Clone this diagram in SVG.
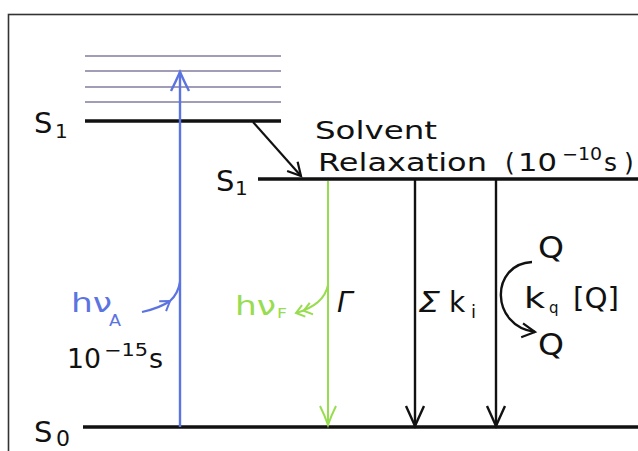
<svg xmlns="http://www.w3.org/2000/svg" width="638" height="451" viewBox="0 0 638 451">
<style>
text{font-family:"DejaVu Sans","Liberation Sans",sans-serif;fill:#111}
.blk{stroke:#111;fill:none}
.lvl{stroke:#111;stroke-width:3.5}
.vib{stroke:#a19db7;stroke-width:2.2}
.blue{fill:#5b74e2}
.green{fill:#98dc50}
</style>
<defs>
<marker id="ahK" markerUnits="userSpaceOnUse" markerWidth="30" markerHeight="30" viewBox="-25 -15 30 30" refX="0" refY="0" orient="auto">
<path d="M-20,-9 Q-9,-4 0,0 Q-9,4 -20,9" fill="none" stroke="#111" stroke-width="2.4"/>
</marker>
<marker id="ahB" markerUnits="userSpaceOnUse" markerWidth="30" markerHeight="30" viewBox="-25 -15 30 30" refX="0" refY="0" orient="auto">
<path d="M-19,-9 Q-9,-4 0,0 Q-9,4 -19,9" fill="none" stroke="#5b74e2" stroke-width="2.4"/>
</marker>
<marker id="ahG" markerUnits="userSpaceOnUse" markerWidth="30" markerHeight="30" viewBox="-25 -15 30 30" refX="0" refY="0" orient="auto">
<path d="M-19,-8 Q-9,-3 0,0 Q-9,3 -19,8" fill="none" stroke="#98dc50" stroke-width="2"/>
</marker>
<marker id="ahS" markerUnits="userSpaceOnUse" markerWidth="24" markerHeight="24" viewBox="-20 -12 24 24" refX="0" refY="0" orient="auto">
<path d="M-13,-7 L0,0 L-13,7" fill="none" stroke="#111" stroke-width="2.2"/>
</marker>
<marker id="ahBs" markerUnits="userSpaceOnUse" markerWidth="24" markerHeight="24" viewBox="-20 -12 24 24" refX="0" refY="0" orient="auto">
<path d="M-9,-6 L0,0 L-9,6" fill="none" stroke="#5b74e2" stroke-width="2"/>
</marker>
<marker id="ahGd" markerUnits="userSpaceOnUse" markerWidth="30" markerHeight="24" viewBox="-24 -12 30 24" refX="0" refY="0" orient="auto">
<path d="M-8,-6 L0,0 L-8,6 M-16,-6 L-8,0 L-16,6" fill="none" stroke="#98dc50" stroke-width="2"/>
</marker>
</defs>
<rect x="8.5" y="14.5" width="660" height="460" fill="#fff" stroke="#333" stroke-width="1.6"/>

<g id="vibrational-levels">
<line class="vib" x1="85" y1="56" x2="281" y2="56"/>
<line class="vib" x1="85" y1="71" x2="281" y2="71"/>
<line class="vib" x1="85" y1="87" x2="281" y2="87"/>
<line class="vib" x1="85" y1="102" x2="281" y2="102"/>
</g>
<g id="S1-unrelaxed">
<line class="lvl" x1="85" y1="121" x2="281" y2="121"/>
<text x="34" y="133" font-size="29">S</text>
<text x="55" y="138" font-size="20">1</text>
</g>
<g id="S1-relaxed">
<line class="lvl" x1="258" y1="179" x2="640" y2="179"/>
<text x="216" y="191" font-size="29">S</text>
<text x="235" y="195" font-size="20">1</text>
</g>
<g id="S0">
<line class="lvl" x1="83" y1="427" x2="640" y2="427"/>
<text x="34" y="442" font-size="29">S</text>
<text x="56" y="446" font-size="22">0</text>
</g>
<g id="solvent-relaxation">
<text x="315" y="139" font-size="25" textLength="122" lengthAdjust="spacingAndGlyphs">Solvent</text>
<text x="318" y="171" font-size="25" textLength="169" lengthAdjust="spacingAndGlyphs">Relaxation</text>
<text x="505" y="171" font-size="25">(</text>
<text x="518" y="171" font-size="25" textLength="39" lengthAdjust="spacingAndGlyphs">10</text>
<text x="562" y="160" font-size="17" textLength="40" lengthAdjust="spacingAndGlyphs">−10</text>
<text x="604" y="171" font-size="25">s</text>
<text x="624" y="171" font-size="25">)</text>
</g>
<g id="absorption-label">
<text class="blue" x="71" y="312" font-size="27" textLength="41" lengthAdjust="spacingAndGlyphs">hν</text>
<text class="blue" x="109" y="326" font-size="15" textLength="12" lengthAdjust="spacingAndGlyphs">A</text>
<text x="67" y="368" font-size="27" textLength="34" lengthAdjust="spacingAndGlyphs">10</text>
<text x="104" y="356" font-size="17" textLength="44" lengthAdjust="spacingAndGlyphs">−15</text>
<text x="149" y="368" font-size="27">s</text>
</g>
<g id="fluorescence-label">
<text class="green" x="235" y="315" font-size="27" textLength="41" lengthAdjust="spacingAndGlyphs">hν</text>
<text class="green" x="277" y="318" font-size="14" textLength="10" lengthAdjust="spacingAndGlyphs">F</text>
<text x="337" y="312" font-size="28" font-style="italic">Γ</text>
</g>
<g id="nonradiative-label">
<text x="418" y="312" font-size="28" font-style="italic" textLength="22" lengthAdjust="spacingAndGlyphs">Σ</text>
<text x="449" y="312" font-size="28">k</text>
<text x="471" y="318" font-size="18">i</text>
</g>
<g id="quenching-label">
<text x="538" y="258" font-size="30" textLength="26" lengthAdjust="spacingAndGlyphs">Q</text>
<text x="524" y="308" font-size="28" textLength="21" lengthAdjust="spacingAndGlyphs">k</text>
<text x="549" y="313" font-size="15">q</text>
<text x="573" y="308" font-size="28" textLength="46" lengthAdjust="spacingAndGlyphs">[Q]</text>
<text x="538" y="355" font-size="30" textLength="26" lengthAdjust="spacingAndGlyphs">Q</text>
</g>

<g id="connectors">
<line x1="180" y1="427" x2="180" y2="72" stroke="#5b74e2" stroke-width="2.4" marker-end="url(#ahB)"/>
<path d="M142,312 Q160,308 170,301" fill="none" stroke="#5b74e2" stroke-width="2.2" marker-end="url(#ahBs)"/>
<path d="M170,301 Q178,294 180,282" fill="none" stroke="#5b74e2" stroke-width="2.2"/>
<line class="blk" x1="253" y1="122" x2="301" y2="176" stroke-width="2.2" marker-end="url(#ahS)"/>
<line x1="328" y1="181" x2="328" y2="425" stroke="#98dc50" stroke-width="2" marker-end="url(#ahG)"/>
<path d="M328,285 Q324,305 296,313" fill="none" stroke="#98dc50" stroke-width="2" marker-end="url(#ahGd)"/>
<line class="blk" x1="415" y1="180" x2="415" y2="426" stroke-width="2.4" marker-end="url(#ahK)"/>
<line class="blk" x1="496" y1="180" x2="496" y2="426" stroke-width="2.4" marker-end="url(#ahK)"/>
<path class="blk" d="M532,262 C490,264 490,326 535,332" stroke-width="2.4" marker-end="url(#ahS)"/>
</g>
</svg>
